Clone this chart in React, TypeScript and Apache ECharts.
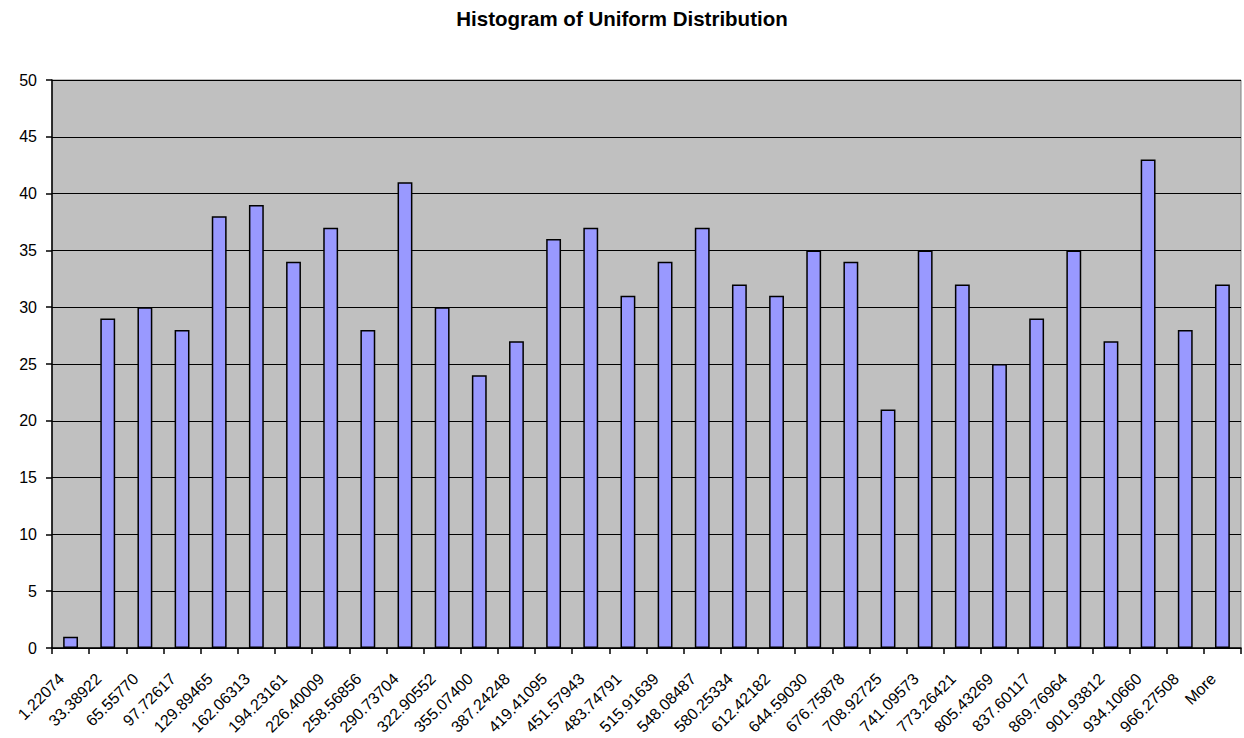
import React, { useEffect, useRef } from "react";
import * as echarts from "echarts";

const categories = [
  "1.22074", "33.38922", "65.55770", "97.72617", "129.89465", "162.06313",
  "194.23161", "226.40009", "258.56856", "290.73704", "322.90552", "355.07400",
  "387.24248", "419.41095", "451.57943", "483.74791", "515.91639", "548.08487",
  "580.25334", "612.42182", "644.59030", "676.75878", "708.92725", "741.09573",
  "773.26421", "805.43269", "837.60117", "869.76964", "901.93812", "934.10660",
  "966.27508", "More",
];

const frequency = [
  1, 29, 30, 28, 38, 39, 34, 37, 28, 41, 30, 24, 27, 36, 37, 31,
  34, 37, 32, 31, 35, 34, 21, 35, 32, 25, 29, 35, 27, 43, 28, 32,
];

const title = "Histogram of Uniform Distribution";

export default function App() {
  const ref = useRef<HTMLDivElement>(null);
  useEffect(() => {
    if (!ref.current) return;
    const chart = echarts.init(ref.current, undefined, { renderer: "svg" });
    const font = "Liberation Sans, Arial, sans-serif";
    chart.setOption({
      animation: false,
      backgroundColor: "#ffffff",
      title: {
        text: title,
        left: "center",
        top: 8,
        padding: 0,
        textStyle: { fontFamily: font, fontSize: 20.5, fontWeight: "bold", color: "#000" },
      },
      grid: {
        left: 52,
        right: 3,
        top: 80,
        bottom: 90,
        containLabel: false,
        outerBoundsMode: "none",
        show: true,
        backgroundColor: "#C0C0C0",
        borderColor: "#808080",
        borderWidth: 1,
      },
      xAxis: {
        type: "category",
        data: categories,
        boundaryGap: true,
        axisLine: { show: true, lineStyle: { color: "#000", width: 1.5 } },
        axisTick: { show: true, inside: false, length: 6, alignWithLabel: false, interval: 0, lineStyle: { color: "#000", width: 1.5 } },
        axisLabel: {
          rotate: 45,
          interval: 0,
          fontFamily: font,
          fontSize: 16,
          color: "#000",
          margin: 19,
          padding: [0, 13, 0, 0],
        },
        splitLine: { show: false },
      },
      yAxis: {
        type: "value",
        min: 0,
        max: 50,
        interval: 5,
        axisLine: { show: true, lineStyle: { color: "#000", width: 1.5 } },
        axisTick: { show: true, inside: false, length: 6, lineStyle: { color: "#000", width: 1.5 } },
        axisLabel: { fontFamily: font, fontSize: 16, color: "#000", margin: 15 },
        splitLine: { show: true, lineStyle: { color: "#000", width: 1 } },
      },
      series: [
        {
          type: "bar",
          data: frequency,
          barWidth: "40%",
          itemStyle: { color: "#9999FF", borderColor: "#000", borderWidth: 1.5 },
        },
      ],
    });
    return () => chart.dispose();
  }, []);
  return (
    <div
      ref={ref}
      style={{ position: "fixed", left: 0, top: 0, width: 1244, height: 738 }}
    />
  );
}
